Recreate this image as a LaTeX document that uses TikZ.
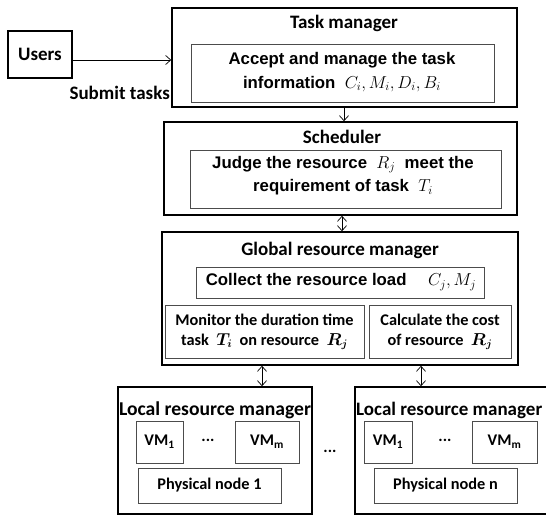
\documentclass[tikz,border=0pt]{standalone}
\usepackage{fontspec}
\setmainfont{Carlito}
\newfontfamily\arialb{Liberation Sans}[BoldFont=* Bold]
\usetikzlibrary{arrows.meta}
\tikzset{
  outer/.style={draw=black,line width=1.6pt,minimum width=#1,inner sep=0pt},
  innerbox/.style={draw=black!70,line width=0.8pt,inner sep=0pt},
  ttl/.style={font=\fontsize{19}{22}\selectfont\bfseries,inner sep=0pt},
  loct/.style={font=\fontsize{19.6}{22}\selectfont\bfseries,inner sep=0pt},
  cal/.style={font=\fontsize{16.3}{20}\selectfont\bfseries,align=center,inner sep=0pt},
  ari/.style={font=\arialb\fontsize{16.8}{23.5}\selectfont\bfseries,align=center,inner sep=0pt},
  arr/.style={-{Straight Barb[length=5pt,width=9pt]},line width=0.7pt},
  darr/.style={{Straight Barb[length=5pt,width=9pt]}-{Straight Barb[length=5pt,width=9pt]},line width=0.7pt}
}
\begin{document}
\begin{tikzpicture}[x=1pt,y=-1pt]
\useasboundingbox (0,0) rectangle (546,517);
% Users
\node[draw,line width=1.6pt,minimum width=64pt,minimum height=47pt,inner sep=0pt,ttl] (users) at (40,54.5) {Users};
% Task manager
\node[outer=345pt,minimum height=99pt] (task) at (344.5,57.5) {};
\node[ttl] (tasktitle) at (344,23) {Task manager};
\node[innerbox,minimum width=303pt,minimum height=58pt] (taskin) at (343,73) {};
\node[ari] (tasktxt) at (342,72) {Accept and manage the task\\information \ \(C_i,M_i,D_i,B_i\)};
\node[ttl,anchor=east] (submit) at (170,93) {Submit tasks};
\draw[arr] ([yshift=-5.5pt]users.east) -- ([yshift=-5.5pt]users.east -| task.west);
% Scheduler
\node[outer=353pt,minimum height=93pt] (sched) at (340.5,168.5) {};
\node[ttl] (schedtitle) at (342,137) {Scheduler};
\node[innerbox,minimum width=311pt,minimum height=58pt] (schedin) at (345.5,179) {};
\node[ari] (schedtxt) at (343,175.5) {Judge the resource \ \(R_j\) \ meet the\\requirement of task \ \(T_i\)};
\draw[arr] (task.south -| 344,0) -- (sched.north -| 344,0);
% Global
\node[outer=356pt,minimum height=133pt] (glob) at (340,298.5) {};
\node[ttl] (globtitle) at (340,250) {Global resource manager};
\node[innerbox,minimum width=288pt,minimum height=31pt] (collect) at (340,282.5) {};
\node[ari] (collecttxt) at (341,282) {Collect the resource load \quad\(C_j,M_j\)};
\node[innerbox,minimum width=199pt,minimum height=53pt] (monitor) at (264.5,331.5) {};
\node[cal] (monitortxt) at (264.5,332) {Monitor the duration time\\task \ {\boldmath\(T_i\)} \ on resource \ {\boldmath\(R_j\)}};
\node[innerbox,minimum width=142pt,minimum height=53pt] (calc) at (440,331.5) {};
\node[cal] (calctxt) at (440,332) {Calculate the cost\\of resource \ {\boldmath\(R_j\)}};
\draw[darr] (sched.south -| 342,0) -- (glob.north -| 342,0);
% Local 1
\node[outer=194pt,minimum height=127pt] (loc1) at (215,450.5) {};
\node[loct] (loc1title) at (215,410) {Local resource manager};
\node[innerbox,minimum width=47pt,minimum height=42pt,cal] (vm1a) at (159.5,442) {VM\textsubscript{1}};
\node[cal] (dotsa) at (208,440) {...};
\node[innerbox,minimum width=64pt,minimum height=42pt,cal] (vmma) at (267,442) {VM\textsubscript{m}};
\node[innerbox,minimum width=143pt,minimum height=35pt,cal] (phys1) at (209.5,485.5) {Physical node 1};
% middle dots
\node[cal] (middots) at (330,451) {...};
% Local 2
\node[outer=205pt,minimum height=127pt] (loc2) at (457.5,450.5) {};
\node[loct,font=\fontsize{19}{22}\selectfont\bfseries,anchor=west] (loc2title) at (356,410) {Local resource manager};
\node[innerbox,minimum width=48pt,minimum height=42pt,cal] (vm1b) at (388,442) {VM\textsubscript{1}};
\node[cal] (dotsb) at (445,440) {...};
\node[innerbox,minimum width=65pt,minimum height=42pt,cal] (vmmb) at (504.5,442) {VM\textsubscript{m}};
\node[innerbox,minimum width=143pt,minimum height=35pt,cal] (physn) at (445.5,485.5) {Physical node n};
\draw[darr] (glob.south -| 262,0) -- (loc1.north -| 262,0);
\draw[darr] (glob.south -| 421,0) -- (loc2.north -| 421,0);
\end{tikzpicture}
\end{document}
